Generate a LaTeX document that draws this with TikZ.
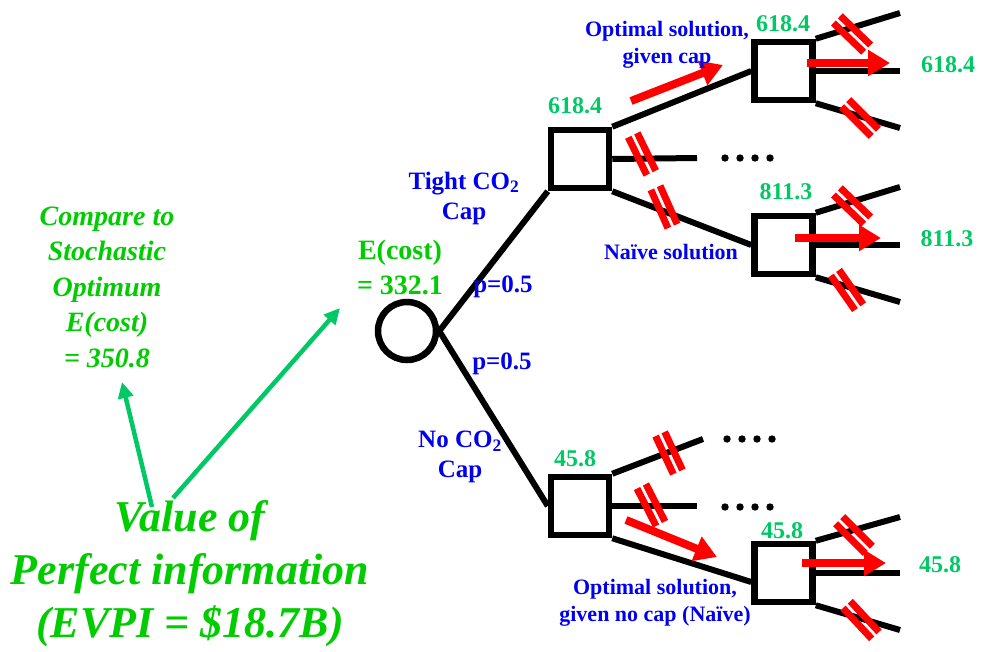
\documentclass[tikz,border=0pt]{standalone}
\usepackage{fontspec}
\setmainfont{Liberation Serif}
\usetikzlibrary{positioning}
\usetikzlibrary{arrows.meta}
\usetikzlibrary{shapes}
\definecolor{valgreen}{RGB}{0,200,100}
\definecolor{txtgreen}{RGB}{0,204,0}
\definecolor{txtblue}{RGB}{0,0,240}
\definecolor{cutred}{RGB}{255,0,0}
\tikzset{
        treenode/.style={align=center,inner sep=0pt},
        % Chance node
        node_chance/.style={circle, draw=black, line width=6.5pt, fill=white, minimum size=58pt, inner sep=0pt},
        % Decision nodes
        node_decision/.style={rectangle, draw=black, line width=6.5pt, fill=white, minimum size=58pt, inner sep=0pt},
        % Cost values
        node_value/.style={treenode, text=valgreen, font=\fontsize{24}{28}\selectfont\bfseries},
        % Blue labels
        node_blue/.style={treenode, text=txtblue, font=\fontsize{22}{27}\selectfont\bfseries},
        node_branch/.style={treenode, text=txtblue, font=\fontsize{25}{30}\selectfont\bfseries},
        % Green labels
        node_green/.style={treenode, text=txtgreen, font=\fontsize{28}{35}\selectfont\bfseries},
        node_italic/.style={treenode, text=txtgreen, font=\fontsize{28}{35.5}\selectfont\bfseries\itshape},
        node_big/.style={treenode, text=txtgreen, font=\fontsize{44}{53}\selectfont\bfseries\itshape},
        % Branches
        branch/.style={draw=black, line width=6pt},
        % Arrows
        pick/.style={draw=cutred, line width=8pt, -{Triangle[length=22pt,width=25pt]}},
        pointer/.style={draw=valgreen, line width=4.5pt, -{Triangle[length=16pt,width=15pt]}},
        % Cut branches
        cutbar/.style={draw=cutred, line width=7pt},
        cutmark/.pic={\draw[cutbar] (-5,-21) -- (-5,21); \draw[cutbar] (5,-21) -- (5,21);}
}
\begin{document}
\begin{tikzpicture}[x=1pt, y=-1pt]
    \useasboundingbox (0,0) rectangle (992,651);

    % tree
    \node[node_chance] (chance) at (407,331) {};
    \node[node_decision] (sq1) at (580,159) {};
    \node[node_decision] (sq2) at (580,506) {};
    \node[node_decision] (sq3) at (783.5,71) {};
    \node[node_decision] (sq4) at (783.5,245) {};
    \node[node_decision] (sq5) at (783.5,573) {};

    \coordinate (s1) at (697,158);
    \coordinate (s2) at (703,439);
    \coordinate (s3) at (697,506);
    \coordinate (l1) at (900,13);
    \coordinate (l2) at (900,71);
    \coordinate (l3) at (900,128);
    \coordinate (l4) at (900,187);
    \coordinate (l5) at (900,245);
    \coordinate (l6) at (900,302);
    \coordinate (l7) at (900,517);
    \coordinate (l8) at (900,573);
    \coordinate (l9) at (900,630);

    \draw[branch] (chance.east) -- (sq1.south west);
    \draw[branch] (chance.east) -- (sq2.west);
    \draw[branch] (sq1.north east) -- (sq3.west);
    \draw[branch] (sq1.east) -- (s1);
    \draw[branch] (sq1.south east) -- (sq4.west);
    \draw[branch] (sq2.north east) -- (s2);
    \draw[branch] (sq2.east) -- (s3);
    \draw[branch] (sq2.south east) -- ([yshift=-9pt]sq5.west);
    \draw[branch] (sq3.north east) -- (l1);
    \draw[branch] (sq3.east) -- (l2);
    \draw[branch] (sq3.south east) -- (l3);
    \draw[branch] (sq4.north east) -- (l4);
    \draw[branch] (sq4.east) -- (l5);
    \draw[branch] (sq4.south east) -- (l6);
    \draw[branch] (sq5.north east) -- (l7);
    \draw[branch] (sq5.east) -- (l8);
    \draw[branch] (sq5.south east) -- (l9);

    % dots
    \coordinate (d1) at (725,158);
    \coordinate (d2) at (727,439);
    \coordinate (d3) at (725,507);
    \foreach \d in {d1,d2,d3}
        \foreach \dx in {0,15,30,45}
            \fill (\d) ++(\dx,0) circle (3.7pt);

    % cut branches
    \foreach \cx/\cy/\ca in {642/154/26, 664/207/24, 852/34/46, 860/118/45, 852/206/46,
                             847/290/35, 669/453/25, 651/505/27, 854/535/45, 861/620/43}
        \pic[rotate=\ca] at (\cx,\cy) {cutmark};

    % chosen solutions
    \coordinate (a1) at (631,101);  \coordinate (b1) at (723,65);
    \coordinate (a2) at (807,63);   \coordinate (b2) at (890,63);
    \coordinate (a3) at (795,238);  \coordinate (b3) at (881,238);
    \coordinate (a4) at (626,520);  \coordinate (b4) at (717,557);
    \coordinate (a5) at (802,563);  \coordinate (b5) at (886,563);
    \foreach \i in {1,...,5}
        \draw[pick] (a\i) -- (b\i);

    % values
    \node[node_value] (v_top) at (575,106) {618.4};
    \node[node_value] (v_opt) at (783,24) {618.4};
    \node[node_value] (v_optend) at (948,65) {618.4};
    \node[node_value] (v_naive) at (786,192) {811.3};
    \node[node_value] (v_naiveend) at (947,239) {811.3};
    \node[node_value] (v_nocap) at (575,459) {45.8};
    \node[node_value] (v_nocapsq) at (782,531) {45.8};
    \node[node_value] (v_nocapend) at (940,565) {45.8};

    % labels
    \node[node_blue] (t_optcap) at (667,45) {Optimal solution,\\ given cap};
    \node[node_blue] (t_naive) at (671,252) {Naïve solution};
    \node[node_blue] (t_optnocap) at (655,603) {Optimal solution,\\ given no cap (Naïve)};
    \node[node_branch] (t_tight) at (464,198) {Tight CO\textsubscript{2}\\ Cap};
    \node[node_branch] (t_nocap) at (460,457) {No CO\textsubscript{2}\\ Cap};
    \node[node_branch] (p_up) at (503,287) {p=0.5};
    \node[node_branch] (p_down) at (502,364) {p=0.5};

    \node[node_green] (ecost) at (400,267) {E(cost)\\ = 332.1};
    \node[node_italic] (compare) at (107,287) {Compare to\\ Stochastic\\ Optimum\\ E(cost)\\ = 350.8};
    \node[node_big] (evpi) at (190,574) {Value of\\ Perfect information\\ (EVPI = \$18.7B)};

    \coordinate (e1) at (173,498);
    \coordinate (e2) at (152,507);
    \draw[pointer] (e1) -- (340,308);
    \draw[pointer] (e2) -- (122,382);
\end{tikzpicture}
\end{document}
